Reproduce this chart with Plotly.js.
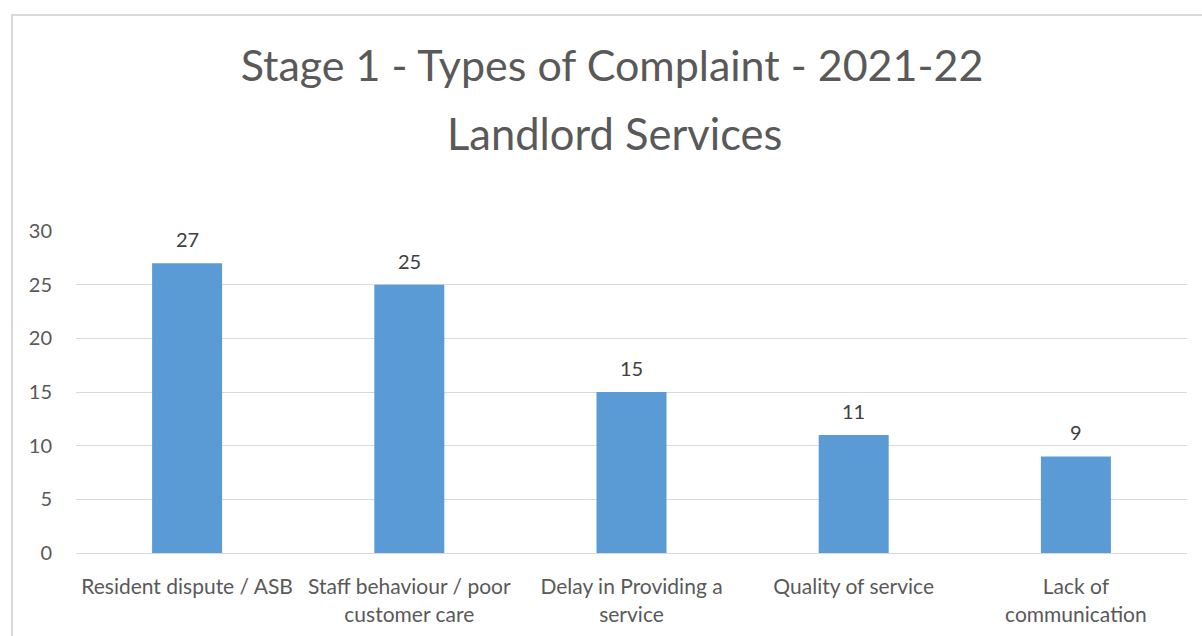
<!DOCTYPE html>
<html>
<head>
<meta charset="utf-8">
<script src="https://cdn.plot.ly/plotly-3.0.1.min.js"></script>
<style>
  html, body { margin: 0; padding: 0; background: #ffffff; }
  #wrap { position: relative; width: 1202px; height: 636px; overflow: hidden; }
  #frame { position: absolute; left: 11px; top: 14px; width: 1300px; height: 700px;
           border-left: 2px solid #d9d9d9; border-top: 2px solid #d9d9d9; pointer-events: none; }
  #chart { position: absolute; left: 0; top: 0; width: 1202px; height: 636px; }
</style>
</head>
<body>
<div id="wrap">
  <div id="chart"></div>
  <div id="frame"></div>
</div>
<script>
const categories = [
  "Resident dispute / ASB",
  "Staff behaviour / poor<br>customer care",
  "Delay in Providing a<br>service",
  "Quality of service",
  "Lack of<br>communication"
];
const values = [27, 25, 15, 11, 9];
const titleLine1 = "Stage 1 - Types of Complaint - 2021-22";
const titleLine2 = "Landlord Services";
const yTicks = [0, 5, 10, 15, 20, 25, 30];

const FONT = "Lato, 'Open Sans', sans-serif";

const trace = {
  type: "bar",
  x: categories,
  y: values,
  marker: { color: "#5b9bd5" },
  hoverinfo: "x+y"
};

const labelAnnotations = categories.map((c, i) => ({
  x: c, y: values[i], xref: "x", yref: "y",
  text: String(values[i]), showarrow: false,
  yanchor: "bottom", yshift: 10,
  font: { family: FONT, size: 20, color: "#404040" }
}));

const layout = {
  width: 1202, height: 636,
  margin: { l: 76, r: 15, t: 231, b: 83 },
  paper_bgcolor: "rgba(0,0,0,0)",
  plot_bgcolor: "rgba(0,0,0,0)",
  bargap: 0.685,
  showlegend: false,
  title: {
    text: titleLine1,
    x: 612 / 1202, xref: "container", xanchor: "center",
    y: 1 - 66 / 636, yref: "container", yanchor: "middle",
    font: { family: FONT, size: 43, color: "#595959" }
  },
  annotations: [{
    text: titleLine2, showarrow: false,
    xref: "paper", yref: "paper",
    x: (614 - 76) / 1111, y: (553 - 133) / 322,
    xanchor: "center", yanchor: "middle",
    font: { family: FONT, size: 43.5, color: "#595959" }
  }].concat(labelAnnotations),
  xaxis: {
    type: "category",
    showgrid: false,
    showline: true, linecolor: "#d9d9d9", linewidth: 1,
    ticks: "", ticklabelstandoff: 15,
    tickfont: { family: FONT, size: 21, color: "#595959" },
    fixedrange: true
  },
  yaxis: {
    range: [0, 30],
    tickvals: yTicks,
    ticktext: yTicks.map(String),
    showgrid: true, gridcolor: "#d9d9d9", gridwidth: 1,
    zeroline: false, showline: false,
    ticks: "", ticklabelstandoff: 23,
    tickfont: { family: FONT, size: 20, color: "#595959" },
    fixedrange: true
  }
};

Plotly.newPlot("chart", [trace], layout, { displayModeBar: false, staticPlot: true });
</script>
</body>
</html>
